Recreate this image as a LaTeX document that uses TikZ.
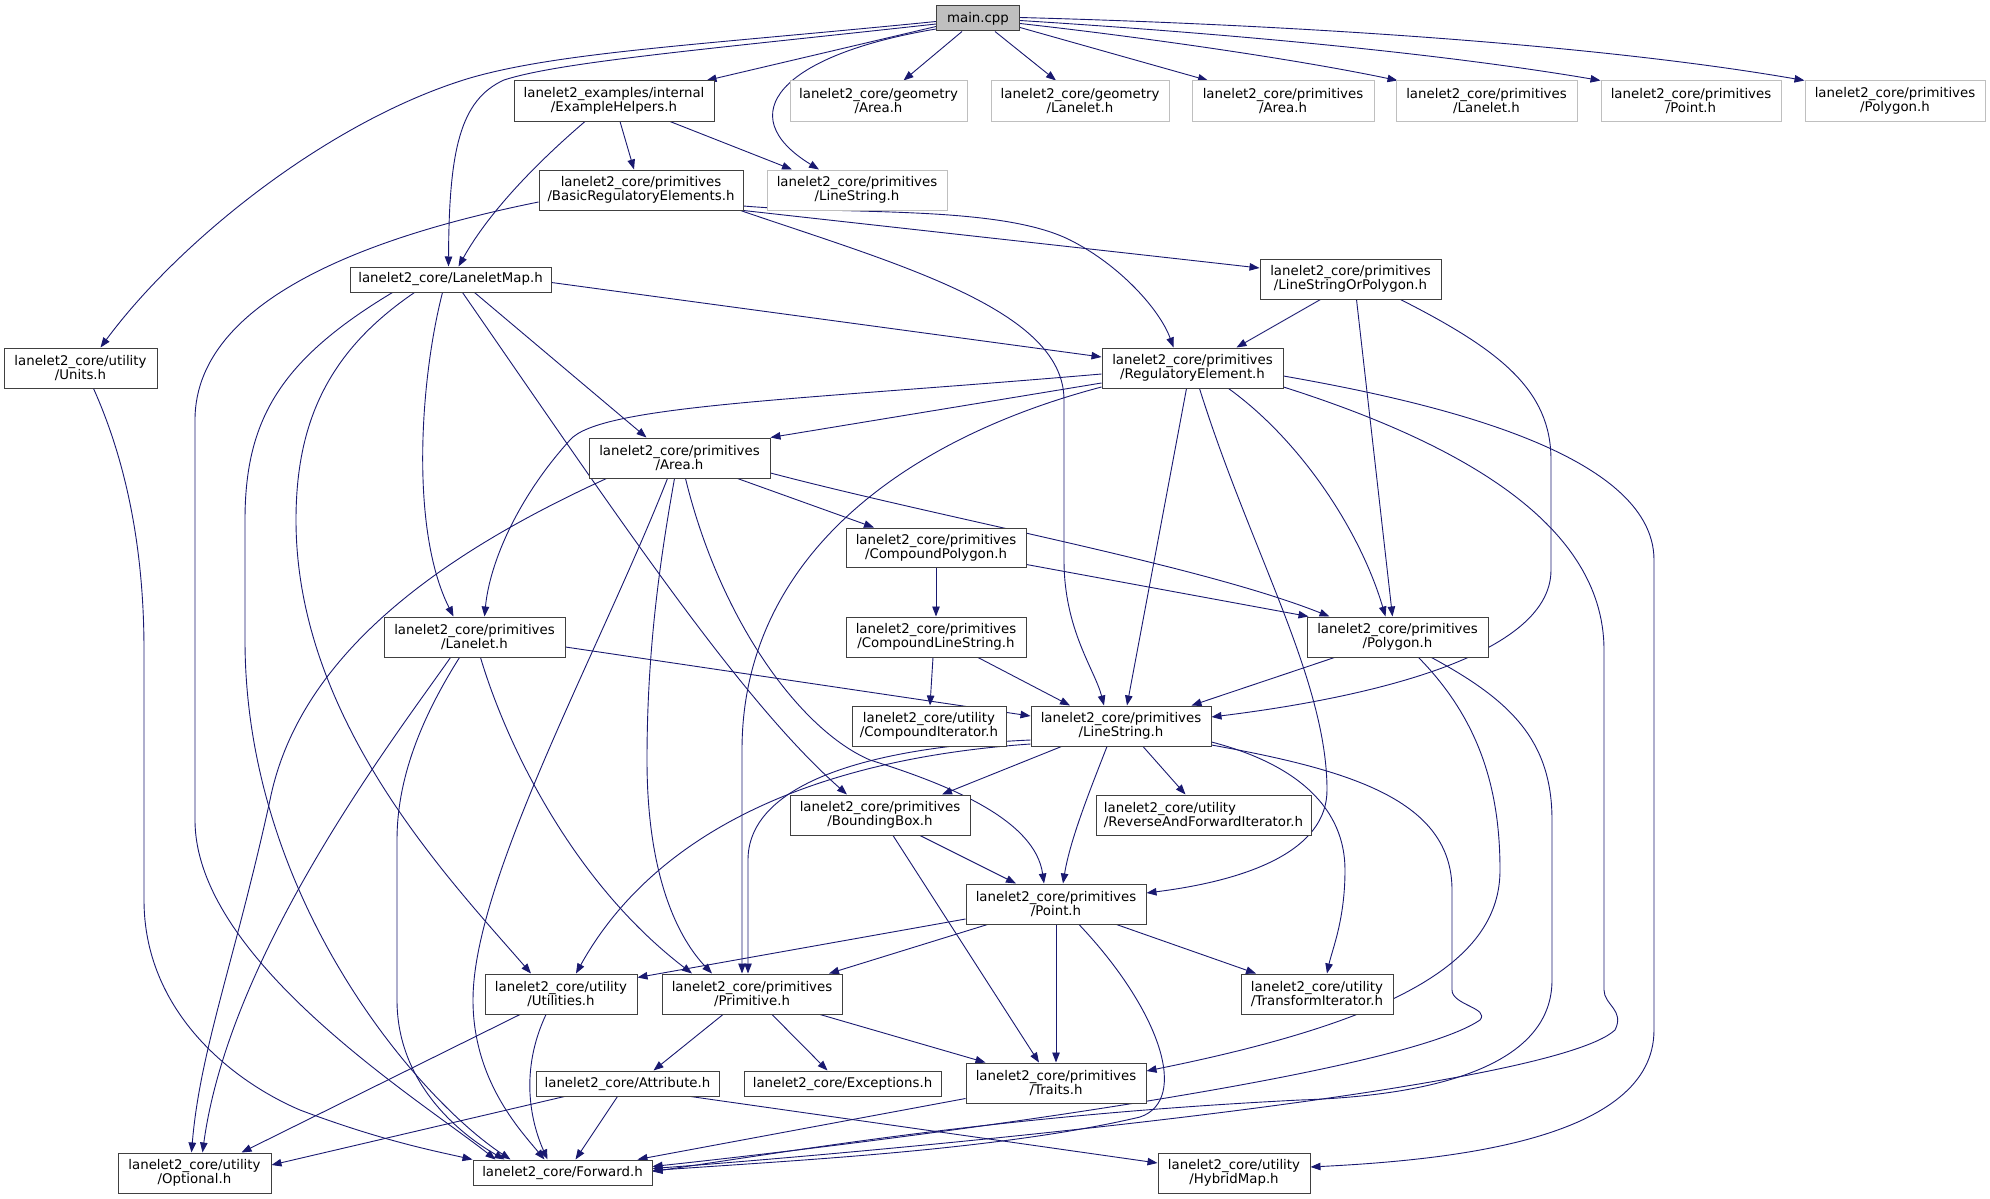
\documentclass[tikz,border=0pt]{standalone}
\usepackage{fontspec}
\newfontfamily\dgnodefont{DejaVu Sans}
\newcommand{\dgfont}{\dgnodefont\fontsize{13.33pt}{14pt}\selectfont}
\usetikzlibrary{arrows.meta,calc,backgrounds}
\definecolor{edgec}{HTML}{191970}
\definecolor{bordc}{HTML}{404040}
\definecolor{grayc}{HTML}{BFBFBF}
\begin{document}
\begin{tikzpicture}[x=1pt,y=-1pt,
  nb/.style={draw=bordc, line width=1pt, fill=white, rectangle, inner sep=0pt, align=center, minimum height=40pt, font=\dgfont},
  gb/.style={nb, draw=grayc},
  ob/.style={nb, minimum height=25pt},
  edg/.style={draw=edgec, line width=0.9pt, -{Triangle[length=10pt,width=7.5pt]}}]
\useasboundingbox (0,0) rectangle (1990,1199);
% nodes
\node[nb, fill=grayc, minimum height=25pt, minimum width=83pt] (main) at (978,18.5) {main.cpp};
\node[nb, minimum width=200pt] (exh) at (614,101) {lanelet2\_examples/internal\\/ExampleHelpers.h};
\node[gb, minimum width=177pt] (gArea) at (878.5,101) {lanelet2\_core/geometry\\/Area.h};
\node[gb, minimum width=178pt] (gLan) at (1080,101) {lanelet2\_core/geometry\\/Lanelet.h};
\node[gb, minimum width=182pt] (pAreaG) at (1283,101) {lanelet2\_core/primitives\\/Area.h};
\node[gb, minimum width=181pt] (pLanG) at (1486.5,101) {lanelet2\_core/primitives\\/Lanelet.h};
\node[gb, minimum width=180pt] (pPointG) at (1691,101) {lanelet2\_core/primitives\\/Point.h};
\node[gb, minimum width=180pt] (pPolyG) at (1895,101) {lanelet2\_core/primitives\\/Polygon.h};
\node[gb, minimum width=180pt] (lsG) at (857,190) {lanelet2\_core/primitives\\/LineString.h};
\node[nb, minimum width=204pt] (breg) at (641,190) {lanelet2\_core/primitives\\/BasicRegulatoryElements.h};
\node[ob, minimum width=201pt] (lmap) at (450.5,279.5) {lanelet2\_core/LaneletMap.h};
\node[nb, minimum width=181pt] (lsop) at (1350.5,279) {lanelet2\_core/primitives\\/LineStringOrPolygon.h};
\node[nb, minimum width=153pt] (units) at (80.5,368) {lanelet2\_core/utility\\/Units.h};
\node[nb, minimum width=181pt] (reg) at (1192.5,368) {lanelet2\_core/primitives\\/RegulatoryElement.h};
\node[nb, minimum width=181pt] (area) at (679.5,458) {lanelet2\_core/primitives\\/Area.h};
\node[nb, minimum width=180pt, minimum height=39pt] (cpoly) at (936,547.5) {lanelet2\_core/primitives\\/CompoundPolygon.h};
\node[nb, minimum width=181pt] (lan) at (474.5,637) {lanelet2\_core/primitives\\/Lanelet.h};
\node[nb, minimum width=180pt] (cls) at (936,637) {lanelet2\_core/primitives\\/CompoundLineString.h};
\node[nb, minimum width=181pt] (poly) at (1397.5,637) {lanelet2\_core/primitives\\/Polygon.h};
\node[nb, minimum width=154pt] (cit) at (929,726) {lanelet2\_core/utility\\/CompoundIterator.h};
\node[nb, minimum width=180pt] (ls) at (1121,726) {lanelet2\_core/primitives\\/LineString.h};
\node[nb, minimum width=180pt] (bbox) at (880,815) {lanelet2\_core/primitives\\/BoundingBox.h};
\node[nb, minimum width=215pt, align=left] (rafi) at (1203.5,815) {lanelet2\_core/utility\\/ReverseAndForwardIterator.h};
\node[nb, minimum width=180pt] (point) at (1056,904) {lanelet2\_core/primitives\\/Point.h};
\node[nb, minimum width=152pt] (util) at (561,994) {lanelet2\_core/utility\\/Utilities.h};
\node[nb, minimum width=180pt] (prim) at (752,994) {lanelet2\_core/primitives\\/Primitive.h};
\node[nb, minimum width=152pt] (tit) at (1317,994) {lanelet2\_core/utility\\/TransformIterator.h};
\node[ob, minimum width=183pt] (attr) at (627.5,1083.5) {lanelet2\_core/Attribute.h};
\node[ob, minimum width=197pt] (exc) at (842.5,1083.5) {lanelet2\_core/Exceptions.h};
\node[nb, minimum width=180pt] (traits) at (1056,1083) {lanelet2\_core/primitives\\/Traits.h};
\node[nb, minimum width=153pt] (opt) at (194.5,1173) {lanelet2\_core/utility\\/Optional.h};
\node[ob, minimum width=179pt] (fwd) at (562.5,1172.5) {lanelet2\_core/Forward.h};
\node[nb, minimum width=152pt] (hyb) at (1234,1173) {lanelet2\_core/utility\\/HybridMap.h};
% edges
\begin{scope}[on background layer]
% main.cpp
\draw[edg] ($(main.west)+(0,3)$) .. controls (700,45) and (560,52) .. (470,78) .. controls (330,120) and (180,240) .. ($(units.north)+(20,0)$);
\draw[edg] ($(main.west)+(0,5.5)$) .. controls (700,50) and (560,62) .. (504,80) .. controls (460,100) and (449,150) .. ($(lmap.north)+(-2,0)$);
\draw[edg] ($(main.west)+(0,8)$) -- ($(exh.north east)+(-8,0)$);
\draw[edg] ($(main.west)+(0,10.5)$) .. controls (780,55) and (730,115) .. ($(lsG.north)+(-38,0)$);
\draw[edg] ($(main.south)+(-16,0)$) -- ($(gArea.north)+(25,0)$);
\draw[edg] ($(main.south)+(17,0)$) -- ($(gLan.north)+(-24,0)$);
\draw[edg] ($(main.east)+(0,9)$) -- ($(pAreaG.north)+(-75,0)$);
\draw[edg] ($(main.east)+(0,5)$) .. controls (1150,38) and (1300,60) .. ($(pLanG.north west)+(2,0)$);
\draw[edg] ($(main.east)+(0,2)$) .. controls (1250,35) and (1450,55) .. ($(pPointG.north west)+(0,0)$);
\draw[edg] ($(main.east)+(0,-1)$) .. controls (1300,25) and (1600,45) .. ($(pPolyG.north west)+(0,0)$);
% ExampleHelpers
\draw[edg] ($(exh.south)+(6,0)$) -- ($(breg.north)+(-7,0)$);
\draw[edg] ($(exh.south)+(-29,0)$) .. controls (540,160) and (490,210) .. ($(lmap.north)+(8,0)$);
\draw[edg] ($(exh.south)+(56,0)$) -- ($(lsG.north)+(-65,0)$);
% BasicRegulatoryElements
\draw[edg] ($(breg.south east)+(0,0)$) .. controls (900,228) and (1100,250) .. ($(lsop.west)+(0,-11)$);
\draw[edg] ($(breg.east)+(0,16)$) .. controls (850,215) and (1000,205) .. (1070,240) .. controls (1120,265) and (1160,310) .. ($(reg.north)+(-19,0)$);
\draw[edg] ($(breg.south east)+(-3,0)$) .. controls (900,265) and (1064,310) .. (1064,400) -- (1064,560) .. controls (1064,630) and (1095,670) .. ($(ls.north)+(-17,0)$);
\draw[edg] ($(breg.west)+(0,12)$) .. controls (400,230) and (195,290) .. (195,420) -- (195,820) .. controls (195,960) and (420,1100) .. ($(fwd.north west)+(23,0)$);
% LaneletMap
\draw[edg] ($(lmap.east)+(0,3)$) -- ($(reg.west)+(0,-11)$);
\draw[edg] ($(lmap.south)+(24,0)$) -- ($(area.north)+(-33,0)$);
\draw[edg] ($(lmap.south)+(-8,0)$) .. controls (420,380) and (410,530) .. ($(lan.north)+(-21,0)$);
\draw[edg] ($(lmap.south)+(12,0)$) .. controls (620,520) and (740,700) .. ($(bbox.north)+(-33,0)$);
\draw[edg] ($(lmap.south)+(-36,0)$) .. controls (330,350) and (296,420) .. (296,520) .. controls (296,720) and (450,880) .. ($(util.north)+(-30,0)$);
\draw[edg] ($(lmap.south)+(-58,0)$) .. controls (280,360) and (245,420) .. (245,520) -- (245,640) .. controls (245,900) and (420,1100) .. ($(fwd.north west)+(38,0)$);
% RegulatoryElement
\draw[edg] ($(reg.west)+(0,6)$) .. controls (800,400) and (600,405) .. (570,440) .. controls (520,495) and (490,560) .. ($(lan.north)+(10,0)$);
\draw[edg] ($(reg.west)+(0,15)$) -- ($(area.north east)+(0,0)$);
\draw[edg] ($(reg.west)+(0,19)$) .. controls (900,440) and (742,560) .. (742,750) -- ($(prim.north)+(-10,0)$);
\draw[edg] ($(reg.south)+(-6,0)$) -- ($(ls.north)+(6,0)$);
\draw[edg] ($(reg.south)+(7,0)$) .. controls (1250,550) and (1327,680) .. (1327,790) .. controls (1327,850) and (1250,880) .. ($(point.east)+(0,-11)$);
\draw[edg] ($(reg.south)+(36,0)$) .. controls (1300,440) and (1360,530) .. ($(poly.north)+(-12,0)$);
\draw[edg] ($(reg.east)+(0,8)$) .. controls (1420,400) and (1654,450) .. (1654,560) -- (1654,1030) .. controls (1654,1140) and (1450,1160) .. ($(hyb.east)+(0,-6)$);
\draw[edg] ($(reg.east)+(0,19)$) .. controls (1450,440) and (1604,520) .. (1604,650) -- (1604,990) .. controls (1604,1005) and (1625,1010) .. (1615,1030) .. controls (1550,1090) and (900,1150) .. ($(fwd.east)+(0,-4)$);
% LineStringOrPolygon
\draw[edg] ($(lsop.south)+(-30,0)$) -- ($(reg.north)+(44,0)$);
\draw[edg] ($(lsop.south)+(6,0)$) -- ($(poly.north)+(-5,0)$);
\draw[edg] ($(lsop.south)+(50,0)$) .. controls (1500,350) and (1551,390) .. (1551,460) -- (1551,570) .. controls (1551,660) and (1350,700) .. ($(ls.east)+(0,-9)$);
% Area
\draw[edg] ($(area.south)+(58,0)$) -- ($(cpoly.north)+(-62,0)$);
\draw[edg] ($(area.east)+(0,15)$) .. controls (950,520) and (1200,565) .. ($(poly.north)+(-68,0)$);
\draw[edg] ($(area.south west)+(18,0)$) .. controls (450,550) and (300,650) .. (270,800) .. controls (235,960) and (200,1050) .. ($(opt.north)+(-3,0)$);
\draw[edg] ($(area.south)+(-12,0)$) .. controls (600,650) and (473,880) .. (473,1000) .. controls (473,1080) and (520,1130) .. ($(fwd.north west)+(72,0)$);
\draw[edg] ($(area.south)+(-5,0)$) .. controls (660,560) and (647,650) .. (647,760) .. controls (647,880) and (680,940) .. ($(prim.north)+(-40,0)$);
\draw[edg] ($(area.south)+(6,0)$) .. controls (720,620) and (800,730) .. (870,760) .. controls (950,785) and (1035,820) .. ($(point.north)+(-12,0)$);
% Compound
\draw[edg] (cpoly.south) -- (cls.north);
\draw[edg] ($(cpoly.east)+(0,17)$) -- ($(poly.north west)+(2,0)$);
\draw[edg] ($(cls.south)+(-3,0)$) -- ($(cit.north)+(1,0)$);
\draw[edg] ($(cls.south)+(42,0)$) -- ($(ls.north)+(-51,0)$);
% Lanelet
\draw[edg] ($(lan.east)+(0,10)$) -- ($(ls.west)+(0,-10)$);
\draw[edg] ($(lan.south)+(6,0)$) .. controls (505,740) and (570,880) .. ($(prim.north)+(-60,0)$);
\draw[edg] ($(lan.south)+(-15,0)$) .. controls (420,720) and (397,780) .. (397,840) -- (397,1000) .. controls (397,1090) and (470,1140) .. ($(fwd.north west)+(32,0)$);
\draw[edg] ($(lan.south)+(-24,0)$) .. controls (400,730) and (230,950) .. ($(opt.north)+(8,0)$);
% Units
\draw[edg] ($(units.south)+(13,0)$) .. controls (130,470) and (144,560) .. (144,650) -- (144,900) .. controls (144,1010) and (230,1080) .. (300,1110) .. controls (380,1140) and (430,1150) .. (fwd.north west);
% Utilities, Attribute, Primitive
\draw[edg] ($(util.south)+(-41,0)$) -- ($(opt.north east)+(-30,0)$);
\draw[edg] ($(util.south)+(-15,0)$) .. controls (520,1070) and (530,1120) .. ($(fwd.north)+(-15,0)$);
\draw[edg] ($(attr.south west)+(29,0)$) -- ($(opt.east)+(0,-8)$);
\draw[edg] ($(attr.south)+(-10,0)$) -- ($(fwd.north)+(13,0)$);
\draw[edg] ($(attr.south east)+(-29,0)$) -- ($(hyb.west)+(0,-10)$);
\draw[edg] ($(prim.south)+(-29,0)$) -- ($(attr.north)+(26,0)$);
\draw[edg] ($(prim.south)+(20,0)$) -- ($(exc.north)+(-15,0)$);
\draw[edg] ($(prim.south)+(68,0)$) -- ($(traits.north west)+(20,0)$);
% Point
\draw[edg] ($(point.west)+(0,15)$) -- ($(util.north east)+(0,4)$);
\draw[edg] ($(point.south west)+(22,0)$) -- ($(prim.north)+(77,0)$);
\draw[edg] (point.south) -- (traits.north);
\draw[edg] ($(point.south east)+(-30,0)$) -- ($(tit.north)+(-61,0)$);
\draw[edg] ($(point.south)+(23,0)$) .. controls (1160,1010) and (1190,1100) .. (1140,1117) .. controls (1000,1150) and (800,1160) .. ($(fwd.east)+(0,-2)$);
% BoundingBox
\draw[edg] ($(bbox.south)+(40,0)$) -- ($(point.north)+(-40,0)$);
\draw[edg] ($(bbox.south)+(13,0)$) -- ($(traits.north)+(-17,0)$);
% LineString
\draw[edg] ($(ls.south west)+(31,0)$) -- ($(bbox.north)+(62,0)$);
\draw[edg] ($(ls.south)+(22,0)$) -- ($(rafi.north)+(-18,0)$);
\draw[edg] ($(ls.south)+(-14,0)$) .. controls (1090,790) and (1070,840) .. ($(point.north)+(7,0)$);
\draw[edg] ($(ls.east)+(0,16)$) .. controls (1300,765) and (1345,810) .. (1345,870) .. controls (1345,920) and (1332,950) .. ($(tit.north)+(10,0)$);
\draw[edg] ($(ls.west)+(0,18)$) .. controls (800,760) and (650,840) .. ($(util.north)+(15,0)$);
\draw[edg] ($(ls.west)+(0,14)$) .. controls (850,748) and (748,790) .. (748,860) -- ($(prim.north)+(-4,0)$);
\draw[edg] ($(ls.east)+(0,19)$) .. controls (1350,770) and (1452,800) .. (1452,890) -- (1452,990) .. controls (1452,1005) and (1490,1008) .. (1480,1020) .. controls (1400,1075) and (900,1140) .. ($(fwd.east)+(0,-6)$);
% Polygon
\draw[edg] ($(poly.south west)+(28,0)$) -- ($(ls.north east)+(-20,0)$);
\draw[edg] ($(poly.south)+(21,0)$) .. controls (1480,720) and (1500,790) .. (1500,870) .. controls (1500,960) and (1400,1020) .. ($(traits.east)+(0,-12)$);
\draw[edg] ($(poly.south)+(34,0)$) .. controls (1510,700) and (1552,740) .. (1552,820) -- (1552,980) .. controls (1552,1060) and (1450,1095) .. (1300,1100) .. controls (1000,1115) and (800,1150) .. ($(fwd.east)+(0,-1)$);
% Traits
\draw[edg] ($(traits.south west)+(0,-5)$) -- ($(fwd.north east)+(-15,0)$);
\end{scope}
\end{tikzpicture}
\end{document}
